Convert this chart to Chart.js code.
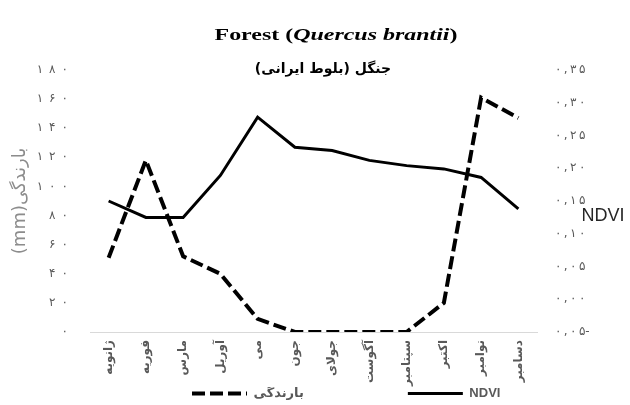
<!DOCTYPE html>
<html>
<head>
<meta charset="utf-8">
<script src="https://cdn.jsdelivr.net/npm/chart.js@4/dist/chart.umd.min.js"></script>
<style>
  html, body { margin: 0; padding: 0; background: #fff; }
  #wrap { width: 630px; height: 405px; }
</style>
</head>
<body>
<div id="wrap"><canvas id="chart" width="630" height="405"></canvas></div>
<script>
// months (Persian transliteration of Gregorian months)
const months = ['ژانویه', 'فوریه', 'مارس', 'آوریل', 'می', 'جون', 'جولای', 'آگوست', 'سپتامبر', 'اکتبر', 'نوامبر', 'دسامبر'];
// rainfall, mm (left axis)
const rainfall = [51, 118, 52, 40, 9, 0, 0, 0, 0, 20, 161, 147];
// NDVI (right axis)
const ndvi = [0.150, 0.125, 0.125, 0.189, 0.278, 0.232, 0.227, 0.212, 0.204, 0.199, 0.186, 0.138];
const rainLabel = 'بارندگی';
const ndviLabel = 'NDVI';

const faDigits = '۰۱۲۳۴۵۶۷۸۹';
function toFa(s) {
  return String(s).replace(/[0-9]/g, d => faDigits[d]);
}
// a bit of air between the digits, like the original
function spaced(s, gap) {
  return s.split('').join(gap || '\u2009');
}
function ndviTick(v) {
  const n = Math.round(v * 100);
  const abs = Math.abs(n);
  const txt = '0,' + (abs < 10 ? '0' + abs : abs);
  return spaced(toFa(txt)) + (n < 0 ? '-' : '');
}

// title lines, the horizontal NDVI label, and legend placement
const titlePlugin = {
  id: 'titles',
  afterLayout(chart) {
    // move the legend row to where the original has it
    const lg = chart.legend;
    const w = lg.right - lg.left;
    const h = lg.bottom - lg.top;
    lg.left = 192 - lg.options.labels.padding;
    lg.right = lg.left + w;
    lg.top = 387;
    lg.bottom = lg.top + h;
  },
  afterDraw(chart) {
    const ctx = chart.ctx;
    ctx.save();
    ctx.fillStyle = '#000';
    ctx.textBaseline = 'alphabetic';
    const parts = [
      ['bold 17px "Liberation Serif", serif', 'Forest ('],
      ['italic bold 17px "Liberation Serif", serif', 'Quercus brantii'],
      ['bold 17px "Liberation Serif", serif', ')']
    ];
    let total = 0;
    parts.forEach(p => { ctx.font = p[0]; total += ctx.measureText(p[1]).width; });
    const sx = 243 / total;
    ctx.save();
    ctx.translate(336, 40);
    ctx.scale(sx, 1);
    let x = -total / 2;
    parts.forEach(p => {
      ctx.font = p[0];
      ctx.textAlign = 'left';
      ctx.fillText(p[1], x, 0);
      x += ctx.measureText(p[1]).width;
    });
    ctx.restore();
    ctx.direction = 'rtl';
    ctx.textAlign = 'center';
    ctx.font = 'bold 14px "DejaVu Sans", sans-serif';
    ctx.fillText('جنگل (بلوط ایرانی)', 323, 73);
    ctx.direction = 'ltr';
    ctx.fillStyle = '#262626';
    ctx.font = '18px "Liberation Sans", Arial, sans-serif';
    ctx.textAlign = 'center';
    ctx.textBaseline = 'middle';
    ctx.fillText(ndviLabel, 603, 216);
    ctx.restore();
  }
};

const ctx = document.getElementById('chart').getContext('2d');
new Chart(ctx, {
  type: 'line',
  data: {
    labels: months,
    datasets: [
      {
        label: rainLabel,
        data: rainfall,
        yAxisID: 'y',
        borderColor: '#000',
        backgroundColor: '#000',
        borderWidth: 4,
        borderDash: [13, 5],
        pointRadius: 0,
        tension: 0
      },
      {
        label: ndviLabel,
        data: ndvi,
        yAxisID: 'y1',
        borderColor: '#000',
        backgroundColor: '#000',
        borderWidth: 3,
        pointRadius: 0,
        tension: 0
      }
    ]
  },
  options: {
    responsive: false,
    animation: false,
    layout: { padding: { top: 70, left: 0, right: 0, bottom: -10 } },
    scales: {
      x: {
        offset: true,
        grid: { display: false, drawTicks: false },
        border: { color: '#d9d9d9', width: 1 },
        ticks: {
          minRotation: 90,
          maxRotation: 90,
          padding: 8,
          color: '#595959',
          font: { family: '"DejaVu Sans", sans-serif', size: 12, weight: 'bold' }
        },
        afterFit(scale) { scale.height = 60; }
      },
      y: {
        position: 'left',
        min: 0,
        max: 180,
        grid: { display: false, drawTicks: false },
        border: { display: false },
        ticks: {
          stepSize: 20,
          padding: 22,
          color: '#595959',
          font: { family: '"DejaVu Sans", sans-serif', size: 12 },
          callback: v => spaced(toFa(v), '\u2002')
        },
        title: {
          display: true,
          text: '(mm)' + rainLabel,
          color: '#8c8c8c',
          font: { family: '"DejaVu Sans", sans-serif', size: 18 },
          padding: { top: 10, bottom: 0 }
        },
        afterFit(scale) { scale.width = 90; }
      },
      y1: {
        position: 'right',
        min: -0.05,
        max: 0.35,
        grid: { display: false, drawTicks: false },
        border: { display: false },
        ticks: {
          stepSize: 0.05,
          padding: 18,
          color: '#595959',
          font: { family: '"DejaVu Sans", sans-serif', size: 12 },
          callback: v => ndviTick(v)
        },
        afterFit(scale) { scale.width = 93; }
      }
    },
    plugins: {
      legend: {
        position: 'bottom',
        align: 'start',
        labels: {
          usePointStyle: true,
          pointStyle: 'line',
          pointStyleWidth: 55,
          boxHeight: 12,
          padding: 0,
          color: '#595959',
          font: { family: '"Liberation Sans", "DejaVu Sans", sans-serif', size: 13, weight: 'bold' },
          generateLabels(chart) {
            const items = Chart.defaults.plugins.legend.labels.generateLabels(chart);
            items.forEach((item, i) => {
              const ds = chart.data.datasets[i];
              item.lineDash = ds.borderDash || [];
              item.lineWidth = ds.borderWidth;
              item.strokeStyle = ds.borderColor;
            });
            // wide gap after the rainfall entry, as in the original
            items[0].text = items[0].text + '\u2003'.repeat(8);
            return items;
          }
        }
      },
      tooltip: { enabled: false }
    }
  },
  plugins: [titlePlugin]
});
</script>
</body>
</html>
